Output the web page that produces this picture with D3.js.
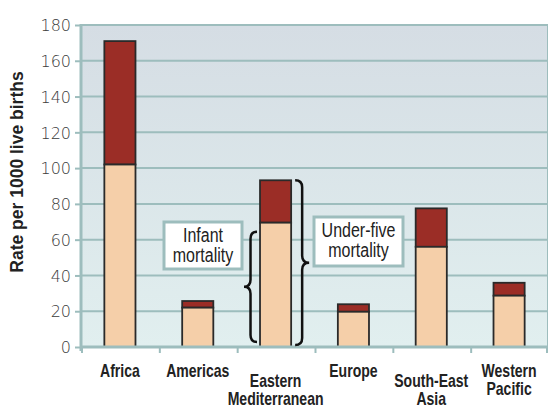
<!DOCTYPE html>
<html>
<head>
<meta charset="utf-8">
<script src="https://cdn.jsdelivr.net/npm/d3@7"></script>
<style>
  body { margin: 0; background: #fff; }
  svg { display: block; }
</style>
</head>
<body>
<div id="chart"></div>
<script>
// data
const regions = ["Africa", "Americas", "Eastern Mediterranean", "Europe", "South-East Asia", "Western Pacific"]
const regionLines = [["Africa"], ["Americas"], ["Eastern", "Mediterranean"], ["Europe"], ["South-East", "Asia"], ["Western", "Pacific"]]
const infantRate = [102, 22, 69.5, 19.7, 56, 28.7]
const underFiveRate = [171, 25.7, 93.2, 23.9, 77.5, 35.9]
const yTicks = [0, 20, 40, 60, 80, 100, 120, 140, 160, 180]

const W = 549, H = 408
const plotL = 81, plotR = 548, plotT = 25, plotB = 347
const teal = "#9dbdbd"
// no narrow face installed, so squeeze Liberation Sans sideways instead
const sans = "'Liberation Sans', Arial, sans-serif"

const svg = d3.select("#chart").append("svg")
    .attr("width", W).attr("height", H)
    .attr("viewBox", [0, 0, W, H])

const defs = svg.append("defs")
const grad = defs.append("linearGradient").attr("id", "bg").attr("x1", 0).attr("x2", 0).attr("y1", 0).attr("y2", 1)
grad.append("stop").attr("offset", "0%").attr("stop-color", "#d5dde4")
grad.append("stop").attr("offset", "100%").attr("stop-color", "#e1efef")

let x = d3.scaleBand().domain(regions).range([plotL, plotR]).padding(0)
let y = d3.scaleLinear().domain([0, 180]).range([plotB, plotT])

svg.append("rect")
    .attr("x", plotL).attr("y", plotT)
    .attr("width", plotR - plotL).attr("height", plotB - plotT)
    .attr("fill", "url(#bg)")

// grid lines
svg.append("g")
    .selectAll("line")
    .data(yTicks.filter(d => d > 0))
    .join("line")
    .attr("x1", plotL).attr("x2", plotR)
    .attr("y1", d => y(d)).attr("y2", d => y(d))
    .attr("stroke", teal).attr("stroke-width", 2)

svg.append("line")
    .attr("x1", plotR - 0.5).attr("x2", plotR - 0.5)
    .attr("y1", plotT).attr("y2", plotB)
    .attr("stroke", teal).attr("stroke-width", 1)

// y axis
let yAxis = svg.append("g")
    .attr("transform", `translate(${plotL},0)`)
    .call(d3.axisLeft(y).tickValues(yTicks).tickSize(6).tickPadding(4))
yAxis.select(".domain").remove()
yAxis.selectAll("line").attr("stroke", teal).attr("stroke-width", 2)
yAxis.selectAll("text")
    .attr("font-family", "'DejaVu Sans', sans-serif")
    .attr("font-weight", 300)
    .attr("font-size", 16)
    .attr("fill", "#3a3a3a")
    .attr("dy", "0.36em")

svg.append("line")
    .attr("x1", plotL).attr("x2", plotL)
    .attr("y1", plotT - 1).attr("y2", plotB + 4)
    .attr("stroke", teal).attr("stroke-width", 3)

svg.append("text")
    .attr("transform", `translate(23,${(plotT + plotB) / 2 - 14}) rotate(-90)`)
    .attr("text-anchor", "middle")
    .attr("font-family", sans)
    .attr("font-weight", "bold")
    .attr("font-size", 17.5)
    .attr("fill", "#222")
    .text("Rate per 1000 live births")

// bars
const barW = x.bandwidth() * 0.4
let bars = svg.append("g").selectAll("g")
    .data(regions)
    .join("g")

bars.append("rect")
    .attr("x", d => x(d) + (x.bandwidth() - barW) / 2)
    .attr("width", barW)
    .attr("y", (d, i) => y(underFiveRate[i]))
    .attr("height", (d, i) => y(infantRate[i]) - y(underFiveRate[i]))
    .attr("fill", "#9b2d26")
    .attr("stroke", "#2a2a2a").attr("stroke-width", 1.8)

bars.append("rect")
    .attr("x", d => x(d) + (x.bandwidth() - barW) / 2)
    .attr("width", barW)
    .attr("y", (d, i) => y(infantRate[i]))
    .attr("height", (d, i) => y(0) - y(infantRate[i]))
    .attr("fill", "#f5cfa9")
    .attr("stroke", "#2a2a2a").attr("stroke-width", 1.8)

// x axis
svg.append("line")
    .attr("x1", plotL).attr("x2", plotR)
    .attr("y1", plotB).attr("y2", plotB)
    .attr("stroke", teal).attr("stroke-width", 3)

svg.append("g").selectAll("line")
    .data(regions.concat(["end"]))
    .join("line")
    .attr("x1", (d, i) => i < regions.length ? x(d) + 1 : plotR - 1)
    .attr("x2", (d, i) => i < regions.length ? x(d) + 1 : plotR - 1)
    .attr("y1", plotB).attr("y2", plotB + 6)
    .attr("stroke", teal).attr("stroke-width", 2)

svg.append("g").selectAll("text")
    .data(regions)
    .join("text")
    .attr("text-anchor", "middle")
    .attr("font-family", sans)
    .attr("font-weight", "bold")
    .attr("font-size", 18)
    .attr("fill", "#222")
    .attr("transform", (d, i) => {
        // the long two-line names sit half a line lower
        let shift = (i == 2 || i == 4) ? 10 : 0
        return `translate(${x(d) + x.bandwidth() / 2},${377 + shift}) scale(0.78,1)`
    })
    .selectAll("tspan")
    .data((d, i) => regionLines[i])
    .join("tspan")
    .attr("x", 0)
    .attr("dy", (d, j) => j == 0 ? 0 : 18)
    .text(d => d)

// braces around the Eastern Mediterranean bar
const brace = (xa, y0, y1, s, w) => {
    let m = (y0 + y1) / 2, h = xa + s * w / 2, r = 7
    return `M${xa},${y0} Q${h},${y0} ${h},${y0 + r} L${h},${m - r} Q${h},${m} ${xa + s * w},${m}` +
        ` Q${h},${m} ${h},${m + r} L${h},${y1 - r} Q${h},${y1} ${xa},${y1}`
}
const emIdx = 2
const emX0 = x(regions[emIdx]) + (x.bandwidth() - barW) / 2
svg.append("path")
    .attr("d", brace(emX0 - 3, y(infantRate[emIdx]) + 9, y(0) - 5, -1, 13))
    .attr("fill", "none").attr("stroke", "#111").attr("stroke-width", 2.5)
svg.append("path")
    .attr("d", brace(emX0 + barW + 4, y(underFiveRate[emIdx]), y(0) - 2, 1, 14))
    .attr("fill", "none").attr("stroke", "#111").attr("stroke-width", 2.5)

// annotation boxes
const note = (x0, y0, w, h, lines) => {
    svg.append("rect")
        .attr("x", x0).attr("y", y0).attr("width", w).attr("height", h)
        .attr("fill", "#fff").attr("stroke", teal).attr("stroke-width", 3)
    svg.append("text")
        .attr("transform", `translate(${x0 + w / 2},${y0}) scale(0.8,1)`)
        .attr("text-anchor", "middle")
        .attr("font-family", sans)
        .attr("font-size", 20)
        .attr("fill", "#222")
        .selectAll("tspan")
        .data(lines)
        .join("tspan")
        .attr("x", 0)
        .attr("y", (d, j) => 20 + j * 20)
        .text(d => d)
}
note(164, 222, 78, 47, ["Infant", "mortality"])
note(314, 217, 89, 49, ["Under-five", "mortality"])
</script>
</body>
</html>
